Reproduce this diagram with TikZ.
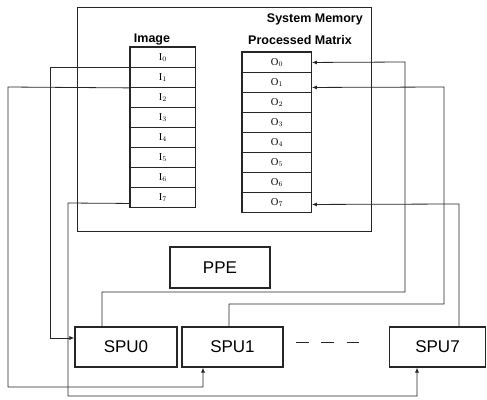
\documentclass[tikz,border=0pt]{standalone}
\usepackage{fontspec}
\setmainfont{Liberation Sans}
\newfontfamily\cellfont{Liberation Serif}
\usetikzlibrary{arrows.meta,calc}
\begin{document}
\begin{tikzpicture}[x=1pt,y=-1pt,
  box/.style={draw=black!85,line width=1.1pt,inner sep=0pt,anchor=north west},
  cellI/.style={draw=black!85,line width=0.9pt,minimum width=65pt,minimum height=20pt,inner sep=0pt,anchor=north west,font=\cellfont\fontsize{10.5}{10.5}\selectfont},
  cellO/.style={draw=black!85,line width=0.9pt,minimum width=69pt,minimum height=20pt,inner sep=0pt,anchor=north west,font=\cellfont\fontsize{10.5}{10.5}\selectfont},
  conn/.style={draw=black!85,line width=0.8pt},
  arr/.style={conn,-{Latex[length=5pt,width=4pt]}},
  lbl/.style={font=\bfseries\fontsize{12.5}{13}\selectfont,inner sep=0pt}]
\useasboundingbox (0,0) rectangle (487,399);
% system memory
\node[box,minimum width=294pt,minimum height=224pt] (mem) at (77,7) {};
\node[lbl,anchor=north east] (memlbl) at (363,14) {System Memory};
\node[lbl,anchor=south] (imglbl) at (152,45) {Image};
\node[lbl,anchor=south] (pmlbl) at (300,45) {Processed Matrix};
% image cells
\foreach \k in {0,...,7}{
  \node[cellI] (I\k) at (130,{47+20*\k}) {I$_{\k}$};
  \node[cellO] (O\k) at (242,{52+20*\k}) {O$_{\k}$};
}
\draw[black!85,line width=1.1pt] (I0.north west) rectangle (I7.south east);
\draw[black!85,line width=1.1pt] (O0.north west) rectangle (O7.south east);
% processors
\node[box,minimum width=100pt,minimum height=41pt,font=\fontsize{17}{17}\selectfont,anchor=center] (ppe) at (220,267.5) {PPE};
\node[box,minimum width=102pt,minimum height=40pt,font=\fontsize{17}{17}\selectfont,anchor=center] (spu0) at (126,347) {SPU0};
\node[box,minimum width=101pt,minimum height=40pt,font=\fontsize{17}{17}\selectfont,anchor=center] (spu1) at (232.5,347) {SPU1};
\node[box,minimum width=96pt,minimum height=40pt,font=\fontsize{17}{17}\selectfont,anchor=center] (spu7) at (437.5,347) {SPU7};
\draw[conn,line width=1pt,dash pattern=on 13pt off 12.5pt] ([xshift=12pt,yshift=5pt]spu1.east) -- ([xshift=-30pt,yshift=5pt]spu7.west);
% bend points
\coordinate (a1) at (50,67);
\coordinate (b1) at (8,87);
\coordinate (b2) at (203,387);
\coordinate (c1) at (68,203);
\coordinate (c2) at (417,396);
\coordinate (d1) at (405,62);
\coordinate (d2) at (102,292);
\coordinate (e1) at (444,87);
\coordinate (e2) at (229,304);
\coordinate (f1) at (459,204);
% left connectors: image -> SPUs
\draw[arr] (I1.north west) -- (a1) |- ([yshift=9pt]spu0.west);
\draw[arr] (I1.south west) -- (b1) |- (b2) -- (b2 |- spu1.south);
\draw[arr] ([yshift=-6pt]I7.west) -- (c1) |- (c2) -- (c2 |- spu7.south);
% right connectors: SPUs -> processed matrix
\draw[arr] (d2 |- spu0.north) -- (d2) -| (d1) -- (O0.east);
\draw[arr] (e2 |- spu1.north) -- (e2) -| (e1) -- ([yshift=-5pt]O1.east);
\draw[arr] (f1 |- spu7.north) -- (f1) -- ([yshift=-2pt]O7.east);
\end{tikzpicture}
\end{document}
